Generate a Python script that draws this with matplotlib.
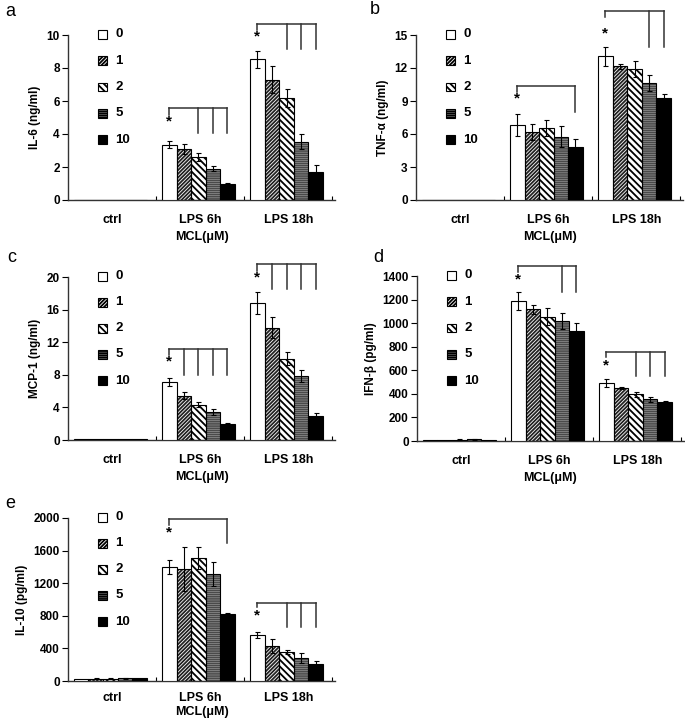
"""
Citocinas após LPS com doses de MCL - cinco painéis de barras (a-e)
"""

import numpy as np
import matplotlib.pyplot as plt
from matplotlib.patches import Rectangle

plt.rcParams['font.family'] = ['Liberation Sans', 'DejaVu Sans']
plt.rcParams['font.weight'] = 'bold'
plt.rcParams['hatch.linewidth'] = 1.3

# ============================================================
# 1. DADOS
# ============================================================
grupos = ['ctrl', 'LPS 6h', 'LPS 18h']
doses = ['0', '1', '2', '5', '10']

# (a) IL-6 ng/ml
il6_media = [[0.03, 0.03, 0.03, 0.03, 0.03],
             [3.35, 3.1, 2.6, 1.9, 1.0],
             [8.53, 7.3, 6.16, 3.54, 1.72]]
il6_erro = [[0, 0, 0, 0, 0],
            [0.2, 0.3, 0.22, 0.15, 0.06],
            [0.5, 0.8, 0.55, 0.45, 0.4]]

# (b) TNF-alfa ng/ml
tnf_media = [[0.04, 0.04, 0.04, 0.04, 0.04],
             [6.8, 6.2, 6.55, 5.75, 4.8],
             [13.05, 12.15, 11.9, 10.65, 9.3]]
tnf_erro = [[0, 0, 0, 0, 0],
            [1.0, 0.75, 0.7, 0.95, 0.75],
            [0.85, 0.2, 0.7, 0.75, 0.35]]

# (c) MCP-1 ng/ml
mcp_media = [[0.1, 0.1, 0.1, 0.1, 0.1],
             [7.1, 5.45, 4.35, 3.4, 1.95],
             [16.8, 13.8, 10.0, 7.9, 3.0]]
mcp_erro = [[0, 0, 0, 0, 0],
            [0.5, 0.4, 0.3, 0.35, 0.12],
            [1.4, 1.3, 0.8, 0.75, 0.35]]

# (d) IFN-beta pg/ml
ifn_media = [[8, 8, 12, 15, 12],
             [1188, 1117, 1055, 1018, 936],
             [489, 450, 396, 354, 328]]
ifn_erro = [[0, 0, 4, 5, 0],
            [73, 40, 70, 68, 65],
            [33, 8, 20, 22, 15]]

# (e) IL-10 pg/ml
il10_media = [[30, 28, 28, 35, 40],
              [1395, 1374, 1505, 1309, 820],
              [560, 433, 360, 282, 209]]
il10_erro = [[0, 8, 5, 5, 0],
             [86, 265, 135, 147, 10],
             [36, 88, 25, 65, 40]]

# chavetas de significância: (grupo, y_linha, y_esq, y_estrela, barras, y_fim)
il6_chaves = [(1, 5.56, 5.15, 4.75, [2, 3, 4], 4.04),
              (2, 10.67, 10.3, 9.9, [2, 3, 4], 9.13)]
tnf_chaves = [(1, 10.36, 9.85, 9.2, [4], 8.0),
              (2, 17.2, 16.6, 15.1, [3, 4], 13.9)]
mcp_chaves = [(1, 11.15, 10.45, 9.6, [1, 2, 3, 4], 8.0),
              (2, 21.6, 20.7, 20.0, [1, 2, 3, 4], 18.5)]
ifn_chaves = [(1, 1487, 1437, 1372, [3, 4], 1267),
              (2, 758, 715, 645, [2, 3, 4], 552)]
il10_chaves = [(1, 1984, 1914, 1820, [4], 1690),
               (2, 961, 904, 798, [2, 3, 4], 666)]

# ============================================================
# 2. ESTILO
# ============================================================
W, H = 685, 720
fig = plt.figure(figsize=(W / 100, H / 100), dpi=100)

hatches = ['', '/' * 9, '\\' * 5, '-' * 8, '']
cor_hatch = ['black', '#222222', 'black', '#4a4a4a', 'black']
cor_fundo = ['white', 'white', 'white', 'white', 'black']
LARG = 0.165


def pos_barra(g, i):
    return g + 0.5 + (i - 2) * LARG - 0.02


def eixo(esq, topo, base, larg=267):
    return fig.add_axes([esq / W, 1 - base / H, larg / W, (base - topo) / H])


def painel(ax, medias, erros, chaves, yticks, ylabel, letra, letra_xy,
           pad_x=10, y_mcl=-0.225):
    for g in range(3):
        for i in range(5):
            x = pos_barra(g, i)
            m = medias[g][i]
            if hatches[i]:
                ax.bar(x, m, LARG, color='white', edgecolor=cor_hatch[i],
                       hatch=hatches[i], linewidth=0, zorder=2)
                ax.bar(x, m, LARG, fill=False, edgecolor='black',
                       linewidth=0.8, zorder=3)
            else:
                ax.bar(x, m, LARG, color=cor_fundo[i], edgecolor='black',
                       linewidth=0.8, zorder=3)
            if erros[g][i] > 0:
                ax.errorbar(x, m, yerr=erros[g][i], fmt='none', ecolor='black',
                            elinewidth=0.8, capsize=1.8, capthick=0.8, zorder=4)

    for g, y_lin, y_esq, y_est, barras, y_fim in chaves:
        x0 = pos_barra(g, 0)
        x4 = pos_barra(g, 4)
        kw = dict(color='#333333', lw=1.1, clip_on=False, zorder=5)
        ax.plot([x0, x4], [y_lin, y_lin], **kw)
        ax.plot([x0, x0], [y_lin, y_esq], **kw)
        for b in barras:
            xb = pos_barra(g, b)
            ax.plot([xb, xb], [y_lin, y_fim], **kw)
        ax.text(x0, y_est, '*', ha='center', va='center', fontsize=11,
                fontweight='bold')

    ax.set_xlim(0, 3.03)
    ax.set_ylim(0, yticks[-1])
    ax.set_yticks(yticks)
    ax.set_yticklabels([str(t) for t in yticks], fontsize=8.5)
    ax.set_xticks([0.5, 1.5, 2.5])
    ax.set_xticklabels(grupos, fontsize=9)
    ax.set_xticks([1, 2, 3], minor=True)
    ax.tick_params(axis='x', which='major', length=0, pad=pad_x)
    ax.tick_params(axis='x', which='minor', direction='in', length=3, width=0.8)
    ax.tick_params(axis='y', direction='out', length=4, width=0.8, pad=2)
    for s in ['top', 'right']:
        ax.spines[s].set_visible(False)
    for s in ['left', 'bottom']:
        ax.spines[s].set_linewidth(1.0)
        ax.spines[s].set_color('#333333')
    ax.set_ylabel(ylabel, fontsize=8.5, fontweight='bold', labelpad=4)
    ax.text(0.5, y_mcl, 'MCL(\u03bcM)', transform=ax.transAxes, ha='center',
            va='center', fontsize=9, fontweight='bold')

    # legenda desenhada à mão (quadrados empilhados)
    for i, d in enumerate(doses):
        yc = 1.005 - i * 0.16
        ax.add_patch(Rectangle((0.112, yc - 0.027), 0.033, 0.054,
                               transform=ax.transAxes, facecolor=cor_fundo[i],
                               edgecolor='black', hatch=hatches[i] or None,
                               linewidth=0.8, clip_on=False, zorder=6))
        ax.text(0.178, yc, d, transform=ax.transAxes, ha='left', va='center',
                fontsize=9.5, fontweight='bold')

    fig.text(letra_xy[0] / W, 1 - letra_xy[1] / H, letra, fontsize=13,
             fontweight='normal', ha='center', va='center')


# ============================================================
# 3. FIGURA
# ============================================================
ax_a = eixo(68, 35, 200)
painel(ax_a, il6_media, il6_erro, il6_chaves, [0, 2, 4, 6, 8, 10],
       'IL-6 (ng/ml)', 'a', (10, 12))

ax_b = eixo(416, 35, 200)
painel(ax_b, tnf_media, tnf_erro, tnf_chaves, [0, 3, 6, 9, 12, 15],
       'TNF-\u03b1 (ng/ml)', 'b', (375, 9))

ax_c = eixo(68, 277, 440)
painel(ax_c, mcp_media, mcp_erro, mcp_chaves, [0, 4, 8, 12, 16, 20],
       'MCP-1 (ng/ml)', 'c', (12, 257))

ax_d = eixo(417, 276, 441)
painel(ax_d, ifn_media, ifn_erro, ifn_chaves, list(range(0, 1401, 200)),
       'IFN-\u03b2 (pg/ml)', 'd', (378, 257))

ax_e = eixo(68, 518, 681)
painel(ax_e, il10_media, il10_erro, il10_chaves, list(range(0, 2001, 400)),
       'IL-10 (pg/ml)', 'e', (10, 503), pad_x=8, y_mcl=-0.19)

fig.savefig('out.png', dpi=100)
